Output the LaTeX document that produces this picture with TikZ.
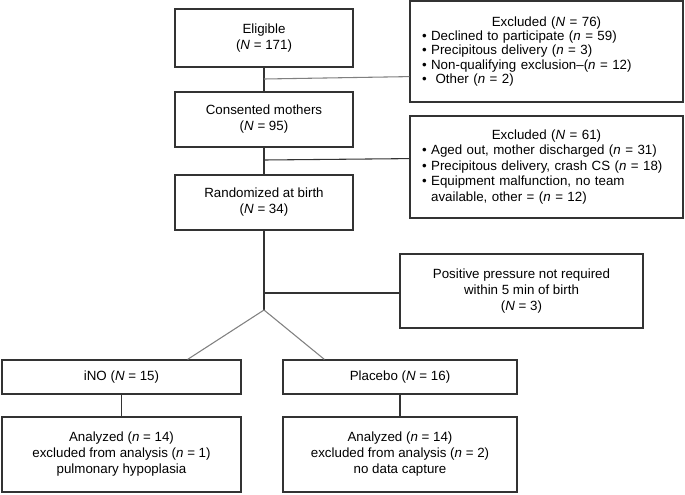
\documentclass[tikz,border=0pt]{standalone}
\usepackage{fontspec}
\setmainfont{Liberation Sans}
\begin{document}
\begin{tikzpicture}[x=0.75pt,y=-0.75pt,
  box/.style={draw=black!80, line width=0.9pt, inner sep=0pt, align=center,
    font=\fontsize{10}{12}\selectfont},
  listbox/.style={box, align=left, inner xsep=9pt, text width=186.75pt,
    minimum width=204.75pt},
  conn/.style={draw=black!80, line width=0.8pt},
  gconn/.style={draw=black!50, line width=0.8pt}]
\useasboundingbox (0,0) rectangle (685,494);

\node[box, minimum width=133.5pt, minimum height=43.5pt] (elig) at (264,38)
  {Eligible\\(\textit{N} = 171)};
\node[box, minimum width=133.5pt, minimum height=41.25pt] (cons) at (264,119.5)
  {Consented mothers\\(\textit{N} = 95)};
\node[box, minimum width=133.5pt, minimum height=41.25pt] (rand) at (264,202.5)
  {Randomized at birth\\(\textit{N} = 34)};

\node[listbox, minimum height=75.75pt, font=\fontsize{10}{10.7}\selectfont] (ex1) at (546.5,51.5)
  {\makebox[\linewidth][c]{Excluded (\textit{N} = 76)}\\
   • Declined to participate (\textit{n} = 59)\\
   • Precipitous delivery (\textit{n} = 3)\\
   • Non-qualifying exclusion–(\textit{n} = 12)\\
   •\ \ Other (\textit{n} = 2)};

\node[listbox, minimum height=76.5pt, font=\fontsize{10}{11.6}\selectfont] (ex2) at (546.5,167)
  {\makebox[\linewidth][c]{Excluded (\textit{N} = 61)}\\
   • Aged out, mother discharged (\textit{n} = 31)\\
   • Precipitous delivery, crash CS (\textit{n} = 18)\\
   • Equipment malfunction, no team\\
   \phantom{• }available, other = (\textit{n} = 12)};

\node[box, minimum width=182.25pt, minimum height=55.5pt] (pos) at (521.5,291)
  {Positive pressure not required\\within 5 min of birth\\(\textit{N} = 3)};

\node[box, minimum width=179.25pt, minimum height=25.5pt] (ino) at (121.5,377)
  {iNO (\textit{N} = 15)};
\node[box, minimum width=175.5pt, minimum height=25.5pt] (plac) at (400,377)
  {Placebo (\textit{N} = 16)};

\node[box, minimum width=179.25pt, minimum height=56.25pt] (anaI) at (121.5,454.5)
  {Analyzed (\textit{n} = 14)\\excluded from analysis (\textit{n} = 1)\\pulmonary hypoplasia};
\node[box, minimum width=175.5pt, minimum height=56.25pt] (anaP) at (400,454.5)
  {Analyzed (\textit{n} = 14)\\excluded from analysis (\textit{n} = 2)\\no data capture};

\coordinate (b1) at (264,79);
\coordinate (b2) at (264,160);
\coordinate (b3) at (264,293);
\coordinate (split) at (264,310);

\draw[conn] (elig.south) -- (cons.north);
\draw[conn] (cons.south) -- (rand.north);
\draw[conn] (rand.south) -- (split);
\draw[gconn] (b1) -- ([yshift=19.5pt]ex1.south west);
\draw[conn] (b2) -- ([yshift=45pt]ex2.south west);
\draw[conn] (b3) -- (b3 -| pos.west);
\draw[gconn] (split) -- ([xshift=-40.5pt]ino.north east);
\draw[gconn] (split) -- ([xshift=31.5pt]plac.north west);
\draw[conn] (ino.south) -- (anaI.north);
\draw[conn] (plac.south) -- (anaP.north);
\end{tikzpicture}
\end{document}
